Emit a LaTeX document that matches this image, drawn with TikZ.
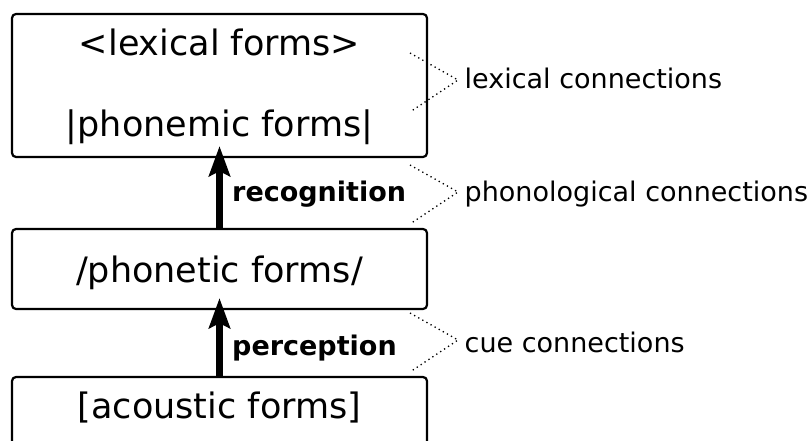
\documentclass[tikz,border=0pt]{standalone}
\usepackage{fontspec}
\setmainfont{DejaVu Sans}
\usetikzlibrary{arrows.meta}
\begin{document}
\begin{tikzpicture}[x=1pt,y=-1pt,
  formbox/.style={draw, line width=2.2pt, rounded corners=4pt, minimum width=415pt, inner sep=0pt},
  formtext/.style={font=\fontsize{35}{42}\selectfont, inner sep=0pt, anchor=base},
  proc/.style={font=\fontsize{27}{32}\selectfont\bfseries, inner sep=0pt, anchor=base west},
  conn/.style={font=\fontsize{27}{32}\selectfont, inner sep=0pt, anchor=base west},
  bigarrow/.style={line width=7pt, -{Stealth[length=30pt,width=21pt,inset=5pt]}},
  dotline/.style={line width=1.3pt, dash pattern=on 1.3pt off 3.4pt}
]
\useasboundingbox (0,0) rectangle (811,441);
\clip (0,0) rectangle (811,441);
% boxes
\node[formbox, minimum height=143pt] (lex) at (219.5,85.5) {};
\node[formbox, minimum height=80pt] (phon) at (219.5,269) {};
\node[formbox, minimum height=100pt] (ac) at (219.5,427) {};
% box texts
\node[formtext] (tlex) at (219.5,56) {<lexical forms>};
\node[formtext] (tphm) at (219.5,136) {|phonemic forms|};
\node[formtext] (tphn) at (219.5,282) {/phonetic forms/};
\node[formtext] (tac) at (219.5,418) {[acoustic forms]};
% arrows
\draw[bigarrow] (phon.north) -- ([yshift=12pt]lex.south);
\draw[bigarrow] (ac.north) -- ([yshift=12pt]phon.south);
\node[proc] (rec) at (232,201) {recognition};
\node[proc] (perc) at (232,355) {perception};
% dotted connectors
\coordinate (a1) at (410,53);
\coordinate (a2) at (458,80);
\coordinate (a3) at (410,112);
\coordinate (b1) at (410,165);
\coordinate (b2) at (458,192);
\coordinate (b3) at (410,224);
\coordinate (c1) at (410,313);
\coordinate (c2) at (458,340);
\coordinate (c3) at (410,372);
\draw[dotline] (a1) -- (a2) -- (a3);
\draw[dotline] (b1) -- (b2) -- (b3);
\draw[dotline] (c1) -- (c2) -- (c3);
\node[conn] (lc) at (464.5,89) {lexical connections};
\node[conn] (pc) at (464.5,201) {phonological connections};
\node[conn] (cc) at (464.5,352) {cue connections};
\end{tikzpicture}
\end{document}
